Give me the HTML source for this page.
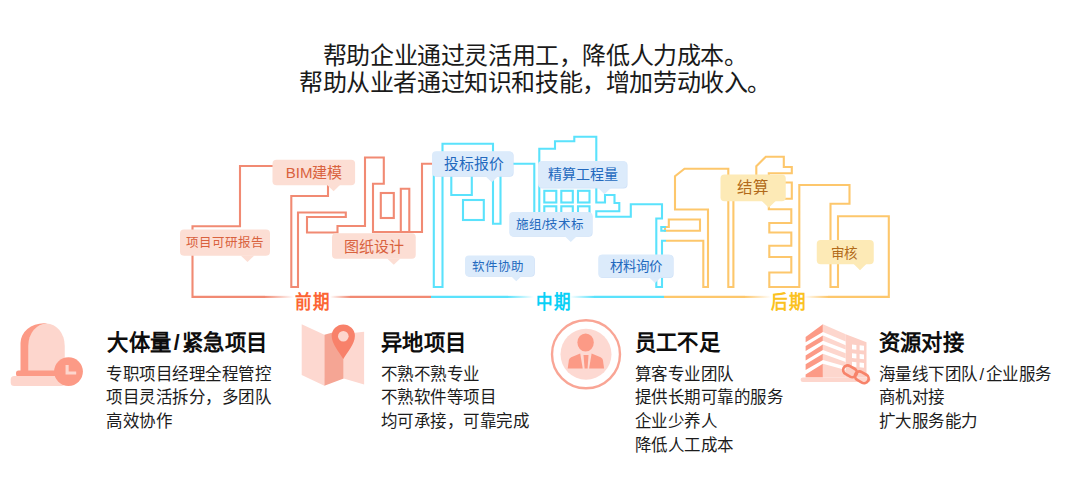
<!DOCTYPE html>
<html lang="zh-CN">
<head>
<meta charset="utf-8">
<title>灵活用工</title>
<style>
html,body{margin:0;padding:0;background:#fff;}
body{width:1080px;height:477px;position:relative;overflow:hidden;font-family:"Liberation Sans",sans-serif;color:#111;}
#art{position:absolute;left:0;top:0;width:1080px;height:477px;}
.hd{position:absolute;font-size:24px;letter-spacing:-0.4px;line-height:29px;color:#1a1a1a;white-space:nowrap;}
.lb{position:absolute;text-align:center;white-space:nowrap;font-weight:500;}
.lb span{position:relative;left:var(--dx,0px);top:var(--dy,0px);}
.o{color:#d9623e;}
.b{color:#2369be;}
.y{color:#b26a19;}
.ph{position:absolute;font-weight:900;font-size:16.5px;letter-spacing:1px;line-height:20px;white-space:nowrap;transform:scaleY(1.14);transform-origin:0 0;}
.tt{position:absolute;font-weight:bold;font-size:21.3px;letter-spacing:0.45px;line-height:26px;color:#0d0d0d;white-space:nowrap;}
.bd{position:absolute;font-size:16.5px;letter-spacing:-0.5px;line-height:23.75px;color:#1c1c1c;white-space:nowrap;}
</style>
</head>
<body>
<svg id="art" viewBox="0 0 1080 477" width="1080" height="477">
<defs>
<linearGradient id="go1" gradientUnits="userSpaceOnUse" x1="265" y1="0" x2="294" y2="0"><stop offset="0" stop-color="#f18a73"/><stop offset="1" stop-color="#f18a73" stop-opacity="0"/></linearGradient>
<linearGradient id="go2" gradientUnits="userSpaceOnUse" x1="330" y1="0" x2="350" y2="0"><stop offset="0" stop-color="#f18a73" stop-opacity="0"/><stop offset="1" stop-color="#f18a73"/></linearGradient>
<linearGradient id="gb1" gradientUnits="userSpaceOnUse" x1="508" y1="0" x2="534" y2="0"><stop offset="0" stop-color="#5ae2fc"/><stop offset="1" stop-color="#5ae2fc" stop-opacity="0"/></linearGradient>
<linearGradient id="gb2" gradientUnits="userSpaceOnUse" x1="570" y1="0" x2="594" y2="0"><stop offset="0" stop-color="#5ae2fc" stop-opacity="0"/><stop offset="1" stop-color="#5ae2fc"/></linearGradient>
<linearGradient id="gy1" gradientUnits="userSpaceOnUse" x1="745" y1="0" x2="771" y2="0"><stop offset="0" stop-color="#fdc76c"/><stop offset="1" stop-color="#fdc76c" stop-opacity="0"/></linearGradient>
<linearGradient id="gy2" gradientUnits="userSpaceOnUse" x1="804" y1="0" x2="828" y2="0"><stop offset="0" stop-color="#fdc76c" stop-opacity="0"/><stop offset="1" stop-color="#fdc76c"/></linearGradient>
</defs>

<!-- ORANGE skyline -->
<g fill="none" stroke="#f18a73" stroke-width="2.1" stroke-linejoin="miter">
<polyline points="265,296.9 192.5,296.9 192.5,226.3 240,226.3 240,166 328,166 328,196 291.3,196 291.3,287 298,287 298,212.5 345.8,212.5 345.8,217 307,217 307,232.5 337.5,232.5 337.5,226 365,226 365,157.5 383.8,157.5 383.8,183.8 373,183.8 373,232 400.8,232 400.8,188.8 409.3,188.8 409.3,232 422,232 422,163.8 440,163.8"/>
<rect x="380.8" y="193" width="13" height="25"/>
<line x1="400.8" y1="232" x2="409.3" y2="232"/>
<line x1="350" y1="296.9" x2="431" y2="296.9"/>
</g>
<rect x="265" y="295.85" width="29" height="2.1" fill="url(#go1)"/>
<rect x="330" y="295.85" width="20" height="2.1" fill="url(#go2)"/>

<!-- CYAN skyline -->
<g fill="none" stroke="#5ae2fc" stroke-width="2.1" stroke-linejoin="miter">
<polyline points="433.8,170 433.8,287 442.5,287 442.5,143.8 493,143.8 493,223.8 500.5,223.8 500.5,163.8 534.3,163.8 534.3,225 539.3,225 539.3,148.8 555,148.8 555,141.3 574.3,141.3 574.3,136.8 596.3,136.8 596.3,202.5 605,202.5 605,195 614.5,195 614.5,203 619.3,203 619.3,211.3 596.3,211.3 596.3,216.8 630.8,216.8 630.8,204.3 662,204.3 662,218.5 656.3,218.5 656.3,287 662,287 662,240.8 666,240.8"/>
<polyline points="451.3,170 451.3,195 471.8,195 471.8,170"/>
<rect x="463" y="200" width="20.8" height="20"/>
<rect x="544.3" y="190.8" width="12" height="11.7"/>
<rect x="561.3" y="190.8" width="11.5" height="11.7"/>
<rect x="578" y="190.8" width="11.5" height="11.7"/>
<rect x="544.3" y="206.3" width="12" height="11.7"/>
<rect x="561.3" y="206.3" width="11.5" height="11.7"/>
<rect x="578" y="206.3" width="11.5" height="11.7"/>
<line x1="431" y1="296.9" x2="508" y2="296.9"/>
<line x1="594" y1="296.9" x2="664" y2="296.9"/>
</g>
<rect x="508" y="295.85" width="26" height="2.1" fill="url(#gb1)"/>
<rect x="570" y="295.85" width="24" height="2.1" fill="url(#gb2)"/>

<!-- YELLOW skyline -->
<g fill="none" stroke="#fdc76c" stroke-width="2.1" stroke-linejoin="miter">
<polyline points="666,240.8 703.3,240.8 703.3,287 708,287 708,209.5 675,209.5 675,176.3 684.5,168.8 728.3,168.8 728.3,287 733.4,287 733.4,190 756.3,190 756.3,166.3 765.8,156.8 783.8,156.8 783.8,167 791.8,167 791.8,173.3 768.8,173.3 768.8,182.5 791.8,182.5 791.8,198.8 768.8,198.8 768.8,209.3 791.3,209.3 791.3,223 769.3,223 769.3,232.5 791.3,232.5 791.3,245.8 769.3,245.8 769.3,257 791.3,257 791.3,272.5 769.3,272.5 769.3,287 799.3,287 799.3,185 849.5,185 849.5,203.8 830.5,203.8 830.5,287 838,287 838,216.3 888.8,216.3 888.8,296.9 828,296.9"/>
<polygon points="665,227 668.8,227 668.8,219.5 700,219.5 700,230.8 665,230.8"/>
<line x1="664" y1="296.9" x2="745" y2="296.9"/>
</g>
<polyline points="666,227 661.3,227 661.3,230.8 666,230.8" fill="none" stroke="#5ae2fc" stroke-width="2.1"/>
<rect x="745" y="295.85" width="26" height="2.1" fill="url(#gy1)"/>
<rect x="804" y="295.85" width="24" height="2.1" fill="url(#gy2)"/>

<!-- LABEL BACKGROUNDS -->
<rect x="272.50" y="159.65" width="82.60" height="25.50" rx="4" fill="#fcded4"/><polygon points="326.97,184.85 340.23,184.85 333.60,191.27" fill="#fcded4"/>
<rect x="180.00" y="229.50" width="90.00" height="26.25" rx="4" fill="#fcded4"/><polygon points="240.68,255.45 254.32,255.45 247.50,262.05" fill="#fcded4"/>
<rect x="332.00" y="233.25" width="83.75" height="25.50" rx="4" fill="#fcded4"/><polygon points="387.12,258.45 400.38,258.45 393.75,264.87" fill="#fcded4"/>
<rect x="432.60" y="151.85" width="81.00" height="25.00" rx="4" fill="#cfe1f8"/><rect x="432.00" y="151.25" width="81.00" height="25.00" rx="4" fill="#dcebfb"/><polygon points="485.25,175.95 498.25,175.95 491.75,182.25" fill="#dcebfb"/>
<rect x="538.60" y="161.60" width="88.90" height="26.80" rx="4" fill="#cfe1f8"/><rect x="538.00" y="161.00" width="88.90" height="26.80" rx="4" fill="#dcebfb"/><polygon points="597.53,187.50 611.47,187.50 604.50,194.23" fill="#dcebfb"/>
<rect x="509.85" y="212.60" width="82.75" height="24.25" rx="4" fill="#cfe1f8"/><rect x="509.25" y="212.00" width="82.75" height="24.25" rx="4" fill="#dcebfb"/><polygon points="564.45,235.95 577.05,235.95 570.75,242.07" fill="#dcebfb"/>
<rect x="465.60" y="256.10" width="69.25" height="20.75" rx="4" fill="#cfe1f8"/><rect x="465.00" y="255.50" width="69.25" height="20.75" rx="4" fill="#dcebfb"/><polygon points="510.86,275.95 521.64,275.95 516.25,281.23" fill="#dcebfb"/>
<rect x="598.85" y="255.10" width="74.75" height="23.00" rx="4" fill="#cfe1f8"/><rect x="598.25" y="254.50" width="74.75" height="23.00" rx="4" fill="#dcebfb"/><polygon points="649.02,277.20 660.98,277.20 655.00,283.02" fill="#dcebfb"/>
<rect x="720.50" y="174.50" width="65.25" height="26.75" rx="4" fill="#fdeab6"/><polygon points="761.79,200.95 775.71,200.95 768.75,207.67" fill="#fdeab6"/>
<rect x="816.75" y="240.00" width="57.00" height="24.30" rx="4" fill="#fdeab6"/><polygon points="853.68,264.00 866.32,264.00 860.00,270.13" fill="#fdeab6"/>

<!-- ICON 1 : dome + clock -->
<g>
<path d="M20.5,371.5 V343 A23.5,19.7 0 0 1 44,323.3 L46.5,323.4 V371.5 Z" fill="#fc9a86"/>
<path d="M28.25,371.5 V346 A18.25,22.55 0 0 1 64.75,346 V371.5 Z" fill="#fdd6cd"/>
<rect x="16" y="370.4" width="44" height="6" rx="2.5" fill="#fc9a86"/>
<rect x="10.7" y="376" width="54" height="10" rx="3.5" fill="#fdd6cd"/>
<circle cx="68.5" cy="371.6" r="14.4" fill="#fc9a86"/>
<polyline points="67.1,365 67.1,373 76.2,373" fill="none" stroke="#fdd6cd" stroke-width="3.1"/>
</g>

<!-- ICON 2 : map + pin -->
<g>
<polygon points="301.7,324.2 324.4,334.8 324.4,385.8 301.7,375.1" fill="#fdd8d0"/>
<polygon points="324.4,334.8 343.7,329.5 343.7,378.4 324.4,385.8" fill="#f5a594"/>
<polygon points="343.7,334 364.1,331.8 364.1,384.6 343.7,378.4" fill="#fdd8d0"/>
<path d="M343.3,359 C339.5,352.3 331.7,344 331.7,336 A11.6,11.6 0 0 1 354.9,336 C354.9,344 347.1,352.3 343.3,359 Z" fill="#f8816a"/>
<circle cx="343.3" cy="336.2" r="5.3" fill="#fdd6cd"/>
</g>

<!-- ICON 3 : person -->
<g>
<circle cx="586" cy="354.3" r="34" fill="#fff" stroke="#f9a595" stroke-width="2.4"/>
<circle cx="586" cy="354.3" r="25.5" fill="#fdd9d2"/>
<ellipse cx="585.6" cy="342.5" rx="8.2" ry="9.1" fill="#fc9a86"/>
<path d="M567.7,368.4 L568.9,360 Q569.2,358.3 571.2,357.3 L580.2,353.6 L582.7,368.4 Z" fill="#fc9a86"/>
<path d="M604.1,368.4 L602.9,360 Q602.6,358.3 600.6,357.3 L591.6,353.6 L589.1,368.4 Z" fill="#fc9a86"/>
<path d="M583.5,355.1 H588.5 L587.6,368.4 H584.6 Z" fill="#fc9a86"/>
</g>

<!-- ICON 4 : building + link -->
<g>
<polygon points="805.6,337.1 822.9,324.2 822.9,332.0 805.6,342.2" fill="#fc9a86"/>
<polygon points="805.6,345.9 822.9,335.6 822.9,340.8 805.6,351.0" fill="#fc9a86"/>
<polygon points="805.6,355.4 822.9,344.4 822.9,350.0 805.6,360.6" fill="#fc9a86"/>
<polygon points="805.6,364.3 822.9,353.7 822.9,359.9 805.6,370.1" fill="#fc9a86"/>
<polygon points="805.6,377.5 805.6,374.5 822.9,363.8 822.9,377.5" fill="#fc9a86"/>
<polygon points="822.9,324.2 845.7,334.2 845.7,341.5 822.9,332.0" fill="#fdd6cd"/>
<polygon points="822.9,335.6 845.7,345.2 845.7,349.6 822.9,340.8" fill="#fdd6cd"/>
<polygon points="822.9,344.4 845.7,353.2 845.7,358.4 822.9,350.0" fill="#fdd6cd"/>
<polygon points="822.9,353.7 845.7,362.1 845.7,366.5 822.9,359.9" fill="#fdd6cd"/>
<polygon points="822.9,363.8 845.7,370.1 845.7,377.5 822.9,377.5" fill="#fdd6cd"/>
<polygon points="845.7,334.2 866.5,342.2 866.5,377.5 845.7,377.5" fill="#fccfc5"/>
<g fill="#fff">
<polygon points="852.0,344.4 856.4,344.9 856.4,349.7 852.0,349.3"/>
<polygon points="852.0,353.2 856.4,353.7 856.4,358.4 852.0,357.9"/>
<polygon points="852.0,361.8 856.4,362.2 856.4,366.9 852.0,366.5"/>
<polygon points="859.6,345.3 864.0,345.8 864.0,350.6 859.6,350.2"/>
<polygon points="859.6,354.1 864.0,354.6 864.0,359.3 859.6,358.8"/>
<polygon points="859.6,362.6 864.0,363.1 864.0,367.8 859.6,367.3"/>
</g>
<rect x="800.6" y="377.4" width="70" height="4.6" rx="2.3" fill="#fdd6cd"/>
<g fill="none" stroke="#f7836a" stroke-width="2.7">
<rect x="842.8" y="366.8" width="14.4" height="9" rx="4.5" transform="rotate(30 850 371.3)"/>
<rect x="854.6" y="372.8" width="14.4" height="9" rx="4.5" transform="rotate(30 861.8 377.3)"/>
</g>
</g>
</svg>

<div class="hd" style="left:322.8px;top:40.5px;">帮助企业通过灵活用工，降低人力成本。</div>
<div class="hd" style="left:299px;top:68px;">帮助从业者通过知识和技能，增加劳动收入。</div>

<div class="lb o" style="--dx:0.3px;--dy:0px;--p:60.5px;left:272.5px;top:159.5px;width:82.5px;height:25.5px;line-height:25.5px;font-size:15px;"><span>BIM建模</span></div>
<div class="lb o" style="--dx:0.3px;--dy:0.4px;--p:67.5px;left:180px;top:229.5px;width:90px;height:26px;line-height:26px;font-size:12.5px;"><span>项目可研报告</span></div>
<div class="lb o" style="--dx:-0.3px;--dy:0.7px;--p:61.8px;left:332px;top:233.3px;width:84px;height:25.5px;line-height:25.5px;font-size:15px;"><span>图纸设计</span></div>

<div class="lb b" style="--dx:1.3px;--dy:1.2px;--p:59.8px;left:432px;top:151.3px;width:81px;height:25px;line-height:25px;font-size:14.8px;"><span>投标报价</span></div>
<div class="lb b" style="--dx:0.2px;--dy:0.2px;--p:67px;left:538px;top:161.3px;width:89px;height:26.7px;line-height:26.7px;font-size:14px;"><span>精算工程量</span></div>
<div class="lb b" style="--dx:-0.5px;--dy:1.4px;--p:61.5px;left:509.3px;top:212px;width:82.7px;height:24.3px;line-height:24.3px;font-size:12.5px;"><span>施组/技术标</span></div>
<div class="lb b" style="--dx:-1.2px;--dy:1.2px;--p:51.3px;left:465px;top:255.5px;width:69.3px;height:20.8px;line-height:20.8px;font-size:12.5px;"><span>软件协助</span></div>
<div class="lb b" style="--dx:0px;--dy:0.6px;--p:56.8px;left:598.3px;top:254.5px;width:74.7px;height:23px;line-height:23px;font-size:13.4px;"><span>材料询价</span></div>

<div class="lb y" style="--dx:0px;--dy:0.8px;--p:48.3px;left:720.5px;top:174.5px;width:65.3px;height:26.7px;line-height:26.7px;font-size:15.5px;"><span>结算</span></div>
<div class="lb y" style="--dx:-1.5px;--dy:2px;--p:43.3px;left:816.8px;top:240px;width:57px;height:23.8px;line-height:23.8px;font-size:13.5px;"><span>审核</span></div>

<div class="ph" style="left:295px;top:291px;color:#fc6534;">前期</div>
<div class="ph" style="left:535.5px;top:291px;color:#08d0f6;">中期</div>
<div class="ph" style="left:770.5px;top:291px;color:#fbc220;">后期</div>

<div class="tt" style="left:107.3px;top:330.2px;">大体量<span style="padding:0 2px">/</span>紧急项目</div>
<div class="bd" style="left:106px;top:362.5px;">专职项目经理全程管控<br>项目灵活拆分，多团队<br>高效协作</div>

<div class="tt" style="left:380.8px;top:330.2px;">异地项目</div>
<div class="bd" style="left:380.8px;top:362.5px;">不熟不熟专业<br>不熟软件等项目<br>均可承接，可靠完成</div>

<div class="tt" style="left:634.5px;top:330.2px;">员工不足</div>
<div class="bd" style="left:634.5px;top:362.5px;">算客专业团队<br>提供长期可靠的服务<br>企业少养人<br>降低人工成本</div>

<div class="tt" style="left:878.5px;top:330.2px;">资源对接</div>
<div class="bd" style="left:878.5px;top:362.5px;">海量线下团队<span style="padding:0 2px">/</span>企业服务<br>商机对接<br>扩大服务能力</div>
</body>
</html>
